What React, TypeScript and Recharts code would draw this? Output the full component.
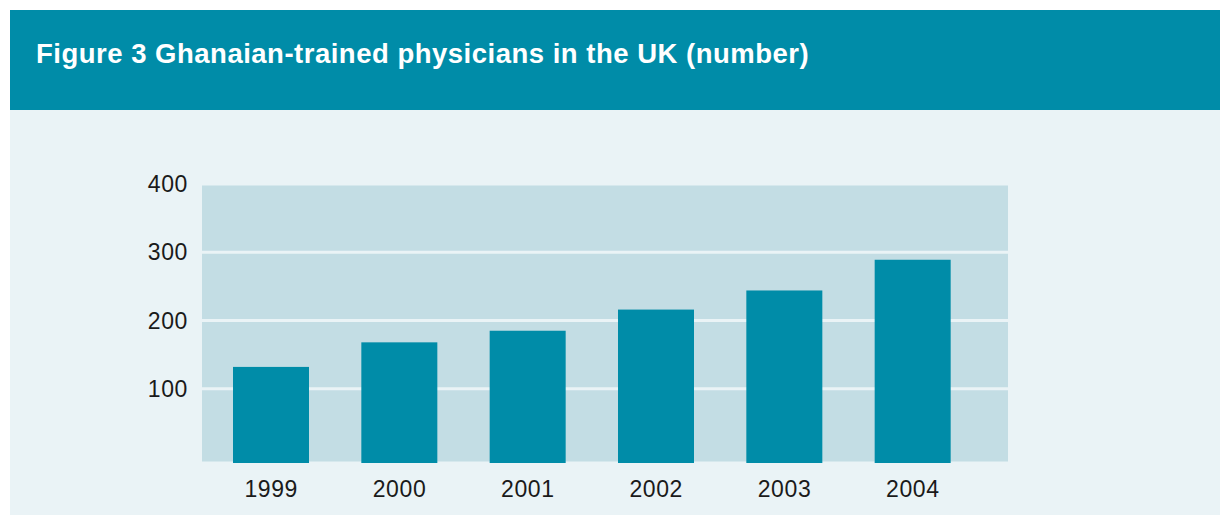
import { Bar, BarChart, CartesianGrid, XAxis, YAxis } from "recharts";

const years = ["1999", "2000", "2001", "2002", "2003", "2004"];
const physicians = [132, 168, 185, 216, 244, 289];
const yTicks = [100, 200, 300, 400];

const TEAL = "#008ca8";
const PALE = "#eaf3f6";
const PLOT = "#c3dde4";

const data = years.map((year, i) => ({ year, value: physicians[i] }));

// bars in the original run down to the bottom edge of the plot box, a few px below zero
const BOTTOM_PAD = 6;
const TallBar = (props: any) => {
  const { x, y, width, height } = props;
  return <rect x={x} y={y} width={width} height={height + BOTTOM_PAD} fill={TEAL} />;
};

const tickStyle = { fill: "#1a1a1a", fontSize: 23, letterSpacing: 0.6 };

export default function App() {
  return (
    <div style={{ position: "relative", width: 1220, height: 515, background: "#fff" }}>
      <style>{`body{margin:0}`}</style>
      <div
        style={{
          position: "absolute",
          left: 10,
          top: 10,
          width: 1210,
          height: 100,
          background: TEAL,
          color: "#fff",
          fontFamily: "'Liberation Sans', Arial, sans-serif",
          fontWeight: "bold",
          fontSize: 27.5,
          letterSpacing: 0.5,
          boxSizing: "border-box",
          paddingLeft: 26,
          paddingTop: 29,
          lineHeight: "30px",
        }}
      >
        Figure 3 Ghanaian-trained physicians in the UK (number)
      </div>
      <div style={{ position: "absolute", left: 10, top: 110, width: 1210, height: 405, background: PALE }}>
        <BarChart
          width={1210}
          height={405}
          data={data}
          margin={{ top: 74, right: 212, bottom: 0, left: 0 }}
          style={{ fontFamily: "'Liberation Sans', Arial, sans-serif" }}
        >
          <CartesianGrid vertical={false} fill={PLOT} stroke={PALE} strokeWidth={3} />
          <XAxis
            dataKey="year"
            height={52}
            axisLine={false}
            tickLine={false}
            tickMargin={12}
            padding={{ left: 5, right: 31 }}
            tick={tickStyle}
          />
          <YAxis
            width={192}
            domain={[0, 400]}
            ticks={yTicks}
            axisLine={false}
            tickLine={false}
            tickMargin={8}
            padding={{ bottom: BOTTOM_PAD }}
            tick={tickStyle}
          />
          <Bar dataKey="value" barSize={76} fill={TEAL} shape={TallBar} isAnimationActive={false} />
        </BarChart>
      </div>
    </div>
  );
}
